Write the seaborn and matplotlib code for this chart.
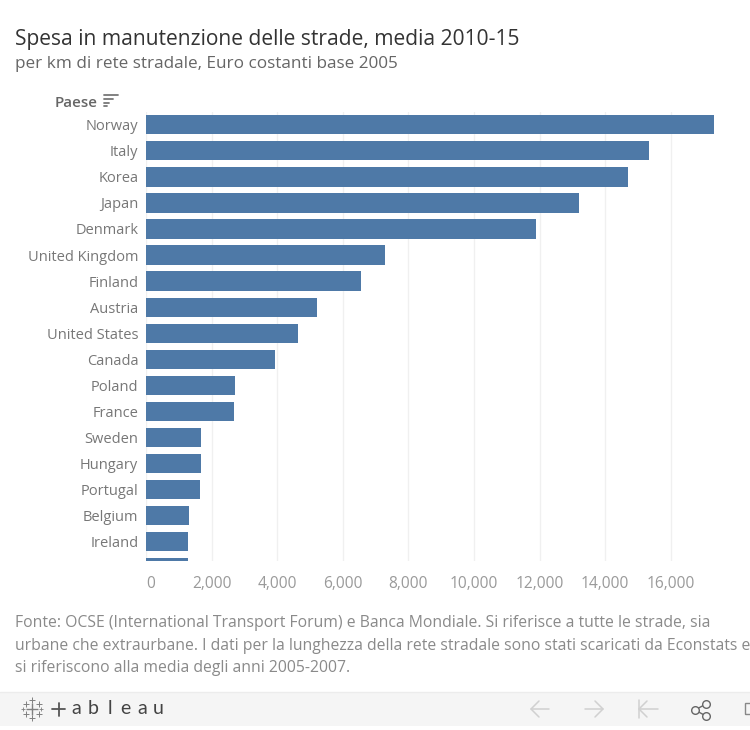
import matplotlib
matplotlib.use("Agg")
import matplotlib.pyplot as plt
from matplotlib.patches import Rectangle
from matplotlib.lines import Line2D
import seaborn as sns
import pandas as pd

countries = ["Norway", "Italy", "Korea", "Japan", "Denmark", "United Kingdom", "Finland",
             "Austria", "United States", "Canada", "Poland", "France", "Sweden", "Hungary",
             "Portugal", "Belgium", "Ireland", ""]
spend = [17320, 15330, 14690, 13200, 11890, 7290, 6560, 5210, 4630, 3930, 2720, 2690,
         1680, 1680, 1650, 1310, 1280, 1270]
xticks = [0, 2000, 4000, 6000, 8000, 10000, 12000, 14000, 16000]

W, H = 750, 730
sns.set_theme(style="white")
plt.rcParams["font.family"] = ["Open Sans", "DejaVu Sans"]
fig = plt.figure(figsize=(W/100, H/100), dpi=100, facecolor="white")

def fx(p): return p / W
def fy(p): return 1 - p / H
def line(xs, ys, color, lw):
    fig.add_artist(Line2D([fx(x) for x in xs], [fy(y) for y in ys], color=color, lw=lw))

# plot area in pixels
L, R, T, B = 146, 750, 112, 561
ax = fig.add_axes([fx(L), fy(B), (R-L)/W, (B-T)/H])
df = pd.DataFrame({"Paese": countries, "Spesa": spend})
sns.barplot(data=df, y="Paese", x="Spesa", orient="h", color="#4e79a7", saturation=1,
            width=0.74, linewidth=0, ax=ax, zorder=3)
ax.set_xlim(0, (R-L)/0.0328)
pitch = 26.05
ax.set_ylim((B-124.8)/pitch, (T-124.8)/pitch)
ax.set_xlabel(""); ax.set_ylabel("")
for s in ax.spines.values():
    s.set_visible(False)
ax.set_xticks(xticks)
ax.set_xticklabels([f"{v:,}" for v in xticks], fontsize=11.2, color="#9a9a9a")
ax.tick_params(axis="x", length=0, pad=11)
ax.tick_params(axis="y", length=0, pad=5.5, labelsize=10.5, labelcolor="#777777")
ax.grid(axis="x", color="#f0f0f0", lw=1, zorder=0)
ax.set_axisbelow(True)
ax.get_xticklabels()[0].set_ha("left")
ax.patch.set_alpha(0)

# titles
fig.text(fx(15), fy(39.5), "Spesa in manutenzione delle strade, media 2010-15", fontsize=15.1,
         color="#333333", va="center", ha="left")
fig.text(fx(15), fy(63.5), "per km di rete stradale, Euro costanti base 2005", fontsize=12.3,
         color="#666666", va="center", ha="left")

# field header with sort icon
fig.text(fx(55), fy(103), "Paese", fontsize=11, color="#666666", va="center", ha="left",
         fontweight="semibold")
for yy, x1 in [(94.5, 118), (98.5, 113), (102.5, 109), (105.5, 107)]:
    line([104, x1], [yy, yy], "#777777", 1.3)

# footer
footer = ["Fonte: OCSE (International Transport Forum) e Banca Mondiale. Si riferisce a tutte le strade, sia",
          "urbane che extraurbane. I dati per la lunghezza della rete stradale sono stati scaricati da Econstats e",
          "si riferiscono alla media degli anni 2005-2007."]
for yy, txt in zip([623, 646, 668], footer):
    fig.text(fx(15), fy(yy), txt, fontsize=11.3, color="#8a8a8a", va="center", ha="left")

# toolbar
fig.add_artist(Rectangle((0, fy(726)), 1, (726-692)/H, transform=fig.transFigure,
                         facecolor="#f5f5f5", edgecolor="none", zorder=0))
line([0, 750], [692, 692], "#ececec", 1)

# logo glyph: crossed plus marks
for px, py, ms, mew in [(32, 709, 8, 1.0), (25.5, 704, 4.5, .7), (38.5, 704, 4.5, .7), (25.5, 714, 4.5, .7),
                        (38.5, 714, 4.5, .7), (32, 700, 4.5, .7), (32, 718, 4.5, .7), (23, 709, 3, .6),
                        (41, 709, 3, .6)]:
    fig.add_artist(Line2D([fx(px)], [fy(py)], marker="+", ms=ms, mew=mew, color="#808080", ls="none"))
line([52, 65], [709, 709], "#555555", 1.3)
line([58.5, 58.5], [702.5, 715.5], "#555555", 1.3)
for px, ch in [(76, "a"), (93, "b"), (110, "l"), (125, "e"), (142, "a"), (158, "u")]:
    fig.text(fx(px), fy(709), ch, fontsize=14, color="#444444", ha="center", va="center",
             family="Lato", fontweight="normal")

# nav icons, thin arrows
arrow = "#d0d0d0"
line([531, 549], [709, 709], arrow, 1.1)
line([539, 531, 539], [701, 709, 717], arrow, 1.1)
line([585, 603], [709, 709], arrow, 1.1)
line([595, 603, 595], [701, 709, 717], arrow, 1.1)
line([638.5, 638.5], [700, 718], arrow, 1.1)
line([639, 658], [709, 709], arrow, 1.1)
line([647, 639, 647], [701, 709, 717], arrow, 1.1)

# share icon
pts = [(695, 710), (706, 704), (706, 716)]
for a, b in [(pts[0], pts[1]), (pts[0], pts[2])]:
    line([a[0], b[0]], [a[1], b[1]], "#666666", 1)
for p in pts:
    fig.add_artist(Line2D([fx(p[0])], [fy(p[1])], marker="o", ms=5.5, mfc="#f5f5f5",
                          mec="#666666", mew=1, ls="none"))
# cut-off fullscreen icon
fig.add_artist(Rectangle((fx(745), fy(714)), 8/W, 11/H, transform=fig.transFigure,
                         facecolor="none", edgecolor="#888888", lw=1))

fig.savefig("out.png", dpi=100)
